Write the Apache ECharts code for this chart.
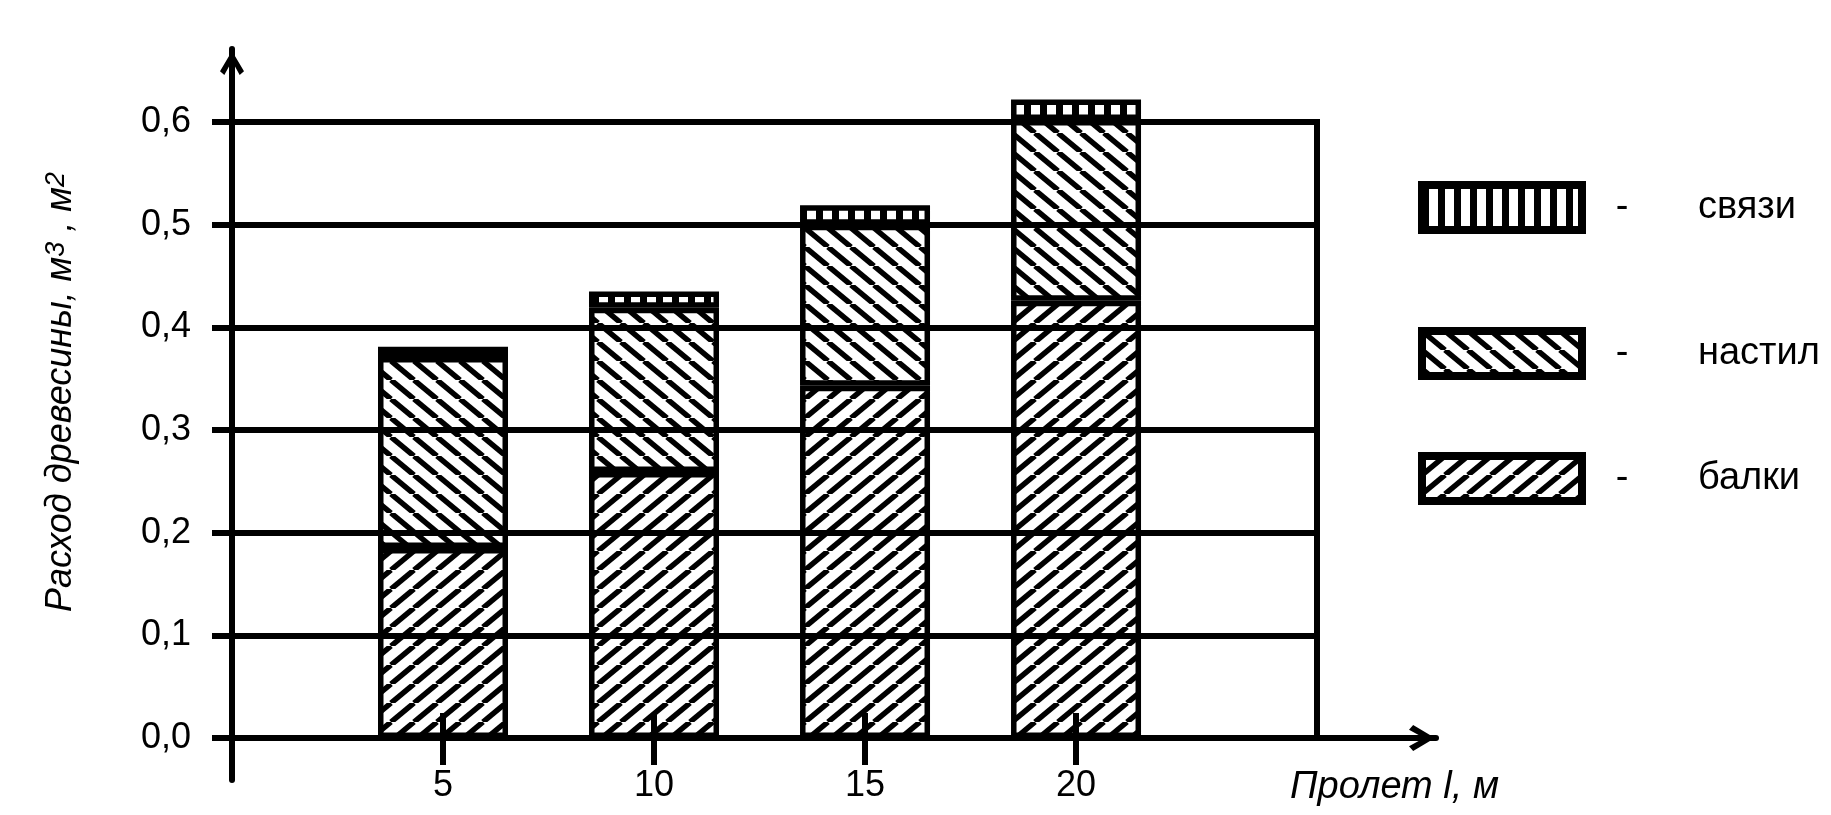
<!DOCTYPE html>
<html>
<head>
<meta charset="utf-8">
<script src="https://cdn.jsdelivr.net/npm/echarts@6/dist/echarts.min.js"></script>
<style>
html,body{margin:0;padding:0;background:#fff;}
#chart{width:1831px;height:815px;}
</style>
</head>
<body>
<div id="chart"></div>
<script>
// ---- data ----
const spans = [5, 10, 15, 20];                 // Пролет l, м
const balki = [0.185, 0.259, 0.343, 0.426];    // балки
const nastil = [0.186, 0.160, 0.157, 0.176];   // настил
const svyazi = [0.010, 0.016, 0.019, 0.020];   // связи
const seriesNames = ['балки', 'настил', 'связи'];
const yTitle = 'Расход древесины, м{s|3} , м{s|2}';
const xTitle = 'Пролет l, м';

// ---- patterns ----
function hatch(dir) {
  const w = 23, h = 19;
  const c = document.createElement('canvas');
  c.width = w; c.height = h;
  const ctx = c.getContext('2d');
  ctx.fillStyle = '#fff'; ctx.fillRect(0, 0, w, h);
  ctx.strokeStyle = '#000'; ctx.lineWidth = 5.5;
  for (let k = -1; k <= 1; k++) {
    ctx.beginPath();
    if (dir === '/') { ctx.moveTo(k * w, h); ctx.lineTo(k * w + w, 0); }
    else { ctx.moveTo(k * w, 0); ctx.lineTo(k * w + w, h); }
    ctx.stroke();
  }
  return { image: c, repeat: 'repeat' };
}
function vstripes() {
  const w = 16, h = 4;
  const c = document.createElement('canvas');
  c.width = w; c.height = h;
  const ctx = c.getContext('2d');
  ctx.fillStyle = '#fff'; ctx.fillRect(0, 0, w, h);
  ctx.fillStyle = '#000'; ctx.fillRect(0, 0, 7, h);
  return { image: c, repeat: 'repeat' };
}
const fills = [hatch('/'), hatch('\\'), vstripes()];
const values = [balki, nastil, svyazi];

const FONT = "'Liberation Sans', Arial, sans-serif";
const arrowPath = 'path://M50,0 L100,84 L82,100 L50,42 L18,100 L0,84 Z';

const chart = echarts.init(document.getElementById('chart'), null, { renderer: 'canvas' });

// value dimension first so that the stack is applied to it; x taken from dim 1
const series = seriesNames.map((name, si) => ({
  name: name,
  type: 'bar',
  stack: 'total',
  xAxisIndex: 0,
  yAxisIndex: 0,
  barWidth: 130,
  clip: false,
  z: 2,
  encode: { x: 1, y: 0 },
  itemStyle: { color: fills[si], borderColor: '#000', borderWidth: 5.5 },
  emphasis: { disabled: true },
  data: spans.map((s, i) => [values[si][i], s])
}));

function legendFor(name, top) {
  return {
    data: [{ name: name, icon: 'rect' }],
    orient: 'vertical',
    left: 1413,
    top: top,
    itemWidth: 160,
    itemHeight: 45,
    selectedMode: false,
    itemStyle: { borderColor: '#000', borderWidth: 8 },
    formatter: n => '{d|-}{s|}{n|' + n + '}',
    textStyle: {
      color: '#000', fontFamily: FONT, fontSize: 38,
      rich: {
        d: { width: 70, align: 'center', fontSize: 38, fontFamily: FONT, color: '#000' },
        s: { width: 41 },
        n: { fontSize: 38, fontFamily: FONT, color: '#000' }
      }
    }
  };
}

const option = {
  backgroundColor: '#fff',
  animation: false,
  grid: [
    { left: 232, right: 514, top: 122, bottom: 77, show: true, borderColor: '#000', borderWidth: 6, backgroundColor: 'transparent' },
    { left: 232, right: 395, top: 49, bottom: 35 }
  ],
  xAxis: [
    {
      type: 'value', gridIndex: 0, min: 0, max: 25.71, z: 10,
      axisLine: { show: false },
      splitLine: { show: false },
      axisTick: { show: true, customValues: spans, length: 27, lineStyle: { color: '#000', width: 6 } },
      axisLabel: { show: true, customValues: spans, margin: 30, color: '#000', fontSize: 36, fontFamily: FONT }
    },
    {
      type: 'value', gridIndex: 1, min: 0, max: 28.53, z: 10,
      axisLine: { show: true, onZero: true, symbol: ['none', arrowPath], symbolSize: [26, 36], symbolOffset: [0, -14],
        lineStyle: { color: '#000', width: 6, cap: 'round' } },
      splitLine: { show: false },
      axisTick: { show: true, inside: true, customValues: spans, length: 25, lineStyle: { color: '#000', width: 6 } },
      axisLabel: { show: false }
    }
  ],
  yAxis: [
    {
      type: 'value', gridIndex: 0, min: 0, max: 0.6, interval: 0.1, z: 10,
      axisLine: { show: false },
      axisTick: { show: true, length: 20, lineStyle: { color: '#000', width: 6 } },
      splitLine: { show: true, lineStyle: { color: '#000', width: 6 } },
      axisLabel: { margin: 41, color: '#000', fontSize: 36, fontFamily: FONT,
        formatter: v => v.toFixed(1).replace('.', ',') }
    },
    {
      type: 'value', gridIndex: 1, min: -0.0409, max: 0.6709, z: 10,
      axisLine: { show: true, onZero: true, symbol: ['none', arrowPath], symbolSize: [24, 36], symbolOffset: [0, -14],
        lineStyle: { color: '#000', width: 6, cap: 'round' } },
      axisTick: { show: false },
      splitLine: { show: false },
      axisLabel: { show: false }
    }
  ],
  legend: [
    legendFor('связи', 176),
    legendFor('настил', 322),
    legendFor('балки', 447)
  ],
  graphic: [
    {
      type: 'text', x: 61, y: 392, rotation: Math.PI / 2,
      style: {
        text: yTitle, align: 'center', verticalAlign: 'middle',
        fill: '#000', fontFamily: FONT, fontSize: 36, fontStyle: 'italic',
        rich: { s: { fontSize: 27, fontFamily: FONT, fontStyle: 'italic', fill: '#000', verticalAlign: 'top', lineHeight: 20 } }
      }
    },
    {
      type: 'text', x: 1290, y: 787,
      style: { text: xTitle, align: 'left', verticalAlign: 'middle', fill: '#000', fontFamily: FONT, fontSize: 38, fontStyle: 'italic' }
    }
  ],
  series: series
};
chart.setOption(option);
</script>
</body>
</html>
